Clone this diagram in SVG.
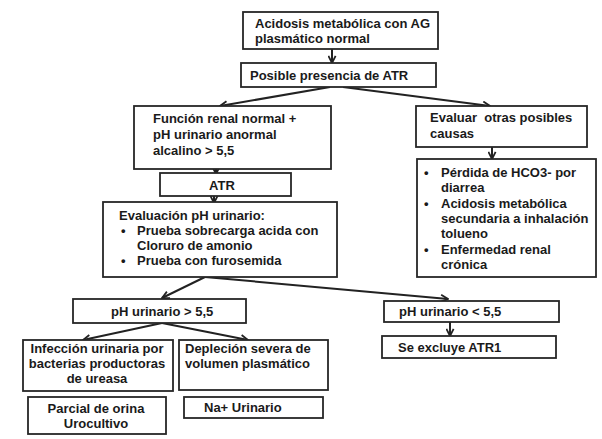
<svg xmlns="http://www.w3.org/2000/svg" width="602" height="439" viewBox="0 0 602 439">
<defs>
<style>
.box{fill:#fff;stroke:#262626;stroke-width:1.8}
.t{font-family:"Liberation Sans",Arial,sans-serif;font-size:13px;font-weight:bold;fill:#1a1a1a}
.c{text-anchor:middle}
.con line{stroke:#222;stroke-width:2;marker-end:url(#arr)}
</style>
<marker id="arr" viewBox="0 0 10 10" refX="9" refY="5" markerWidth="9" markerHeight="9" markerUnits="userSpaceOnUse" orient="auto">
<path d="M1,1 L9,5 L1,9" fill="none" stroke="#222" stroke-width="2"/>
</marker>
</defs>
<rect width="602" height="439" fill="#fff"/>
<g id="connectors" class="con">
<line x1="332" y1="49" x2="332" y2="63"/>
<line x1="330" y1="87" x2="220" y2="106"/>
<line x1="343" y1="87" x2="490" y2="106"/>
<line x1="216" y1="167" x2="216" y2="174"/>
<line x1="214" y1="195" x2="214" y2="203"/>
<line x1="492" y1="147" x2="492" y2="159"/>
<line x1="205" y1="277" x2="162" y2="298"/>
<line x1="205" y1="277" x2="448" y2="299"/>
<line x1="162" y1="323" x2="83" y2="340"/>
<line x1="162" y1="323" x2="248" y2="340"/>
<line x1="450" y1="322" x2="450" y2="336"/>
</g>
<g id="n1"><rect class="box" x="243" y="12" width="195" height="37"/>
<text class="t" x="255" y="28">Acidosis metabólica con AG</text>
<text class="t" x="255" y="43">plasmático normal</text></g>
<g id="n2"><rect class="box" x="241" y="63" width="195" height="24"/>
<text class="t" x="250" y="80">Posible presencia de ATR</text></g>
<g id="n3"><rect class="box" x="134" y="106" width="197" height="63"/>
<text class="t" x="153" y="123">Función renal normal +</text>
<text class="t" x="153" y="139">pH urinario anormal</text>
<text class="t" x="153" y="155">alcalino &gt; 5,5</text></g>
<g id="n4"><rect class="box" x="416" y="106" width="171" height="41"/>
<text class="t" x="430" y="122" xml:space="preserve">Evaluar  otras posibles</text>
<text class="t" x="430" y="138">causas</text></g>
<g id="n5"><rect class="box" x="417" y="159" width="179" height="118"/>
<text class="t" x="424" y="177">•</text><text class="t" x="441" y="177">Pérdida de HCO3- por</text>
<text class="t" x="441" y="192">diarrea</text>
<text class="t" x="424" y="208">•</text><text class="t" x="441" y="208">Acidosis metabólica</text>
<text class="t" x="441" y="223">secundaria a inhalación</text>
<text class="t" x="441" y="238">tolueno</text>
<text class="t" x="424" y="254">•</text><text class="t" x="441" y="254">Enfermedad renal</text>
<text class="t" x="441" y="269">crónica</text></g>
<g id="n6"><rect class="box" x="160" y="173" width="131" height="23"/>
<text class="t c" x="222" y="190">ATR</text></g>
<g id="n7"><rect class="box" x="103" y="202" width="234" height="75"/>
<text class="t" x="119" y="220">Evaluación pH urinario:</text>
<text class="t" x="121" y="235">•</text><text class="t" x="137" y="235">Prueba sobrecarga acida con</text>
<text class="t" x="137" y="250">Cloruro de amonio</text>
<text class="t" x="121" y="265">•</text><text class="t" x="137" y="265">Prueba con furosemida</text></g>
<g id="n8"><rect class="box" x="73" y="299" width="173" height="24"/>
<text class="t" x="111" y="316">pH urinario &gt; 5,5</text></g>
<g id="n9"><rect class="box" x="384" y="301" width="175" height="21"/>
<text class="t" x="399" y="316">pH urinario &lt; 5,5</text></g>
<g id="n10"><rect class="box" x="382" y="336" width="174" height="22"/>
<text class="t" x="398" y="352">Se excluye ATR1</text></g>
<g id="n11"><rect class="box" x="23" y="340" width="150" height="51"/>
<text class="t c" x="97" y="353">Infección urinaria por</text>
<text class="t c" x="97" y="368">bacterias productoras</text>
<text class="t c" x="97" y="383">de ureasa</text></g>
<g id="n12"><rect class="box" x="179" y="340" width="149" height="50"/>
<text class="t" x="185" y="353">Depleción severa de</text>
<text class="t" x="185" y="368">volumen plasmático</text></g>
<g id="n13"><rect class="box" x="28" y="397" width="138" height="37"/>
<text class="t c" x="96" y="413">Parcial de orina</text>
<text class="t c" x="96" y="428">Urocultivo</text></g>
<g id="n14"><rect class="box" x="184" y="397" width="139" height="21"/>
<text class="t" x="204" y="412">Na+ Urinario</text></g>
</svg>
